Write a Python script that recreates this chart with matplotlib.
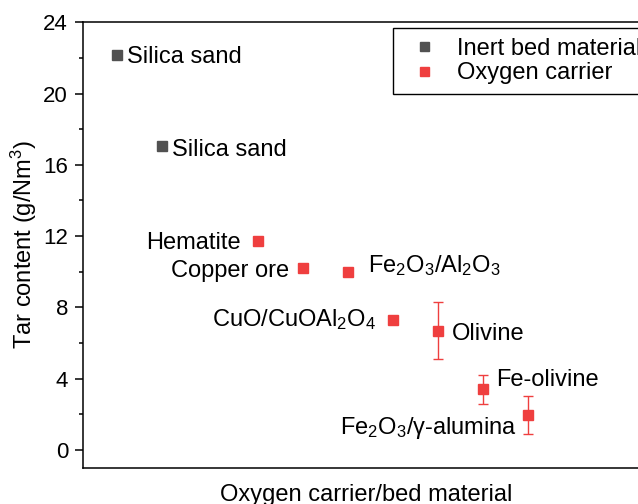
import matplotlib
matplotlib.use('Agg')
import matplotlib.pyplot as plt
from matplotlib.ticker import MultipleLocator

plt.rcParams['font.family'] = ['Liberation Sans', 'DejaVu Sans']
plt.rcParams['mathtext.fontset'] = 'custom'
plt.rcParams['mathtext.rm'] = 'Liberation Sans'
plt.rcParams['mathtext.it'] = 'Liberation Sans:italic'
plt.rcParams['mathtext.bf'] = 'Liberation Sans:bold'

# inert bed materials
inert_x = [1, 2]
inert_y = [22.15, 17.05]
inert_names = ['Silica sand', 'Silica sand']

# oxygen carriers
carrier_x = [4.13, 5.13, 6.13, 7.13, 8.13, 9.13, 10.13]
carrier_y = [11.75, 10.2, 10.0, 7.3, 6.7, 3.4, 1.95]
carrier_err = [0, 0, 0, 0, 1.6, 0.8, 1.05]
carrier_names = ['Hematite', 'Copper ore', 'Fe$_2$O$_3$/Al$_2$O$_3$',
	'CuO/CuOAl$_2$O$_4$', 'Olivine', 'Fe-olivine', 'Fe$_2$O$_3$/γ-alumina']

# label offsets (pixels) and alignment for each point
inert_off = [(10, -8), (10, -10)]
inert_ha = ['left', 'left']
carrier_off = [(-17, -8), (-14, -9), (20, 0), (-17, -6), (14, -9), (13, 3), (-11, -19)]
carrier_ha = ['right', 'right', 'left', 'right', 'left', 'left', 'right']

gray = '#515151'
red = '#ef3f3f'
fs = 17

fig = plt.figure(figsize=(6.38, 5.04), dpi=100)
ax = fig.add_axes([0.1306, 0.072, 0.886, 0.8838])

ax.plot(inert_x, inert_y, 's', color=gray, markersize=7.2, linestyle='none',
	label='Inert bed material')
ax.errorbar(carrier_x, carrier_y, yerr=carrier_err, fmt='none', ecolor=red,
	capsize=3.4, elinewidth=1, capthick=1)
ax.plot(carrier_x, carrier_y, 's', color=red, markersize=7.2, linestyle='none',
	label='Oxygen carrier')

for x, y, s, off, ha in zip(inert_x, inert_y, inert_names, inert_off, inert_ha):
	ax.annotate(s, (x, y), xytext=off, textcoords='offset pixels',
		ha=ha, va='baseline', fontsize=fs)
for x, y, s, off, ha in zip(carrier_x, carrier_y, carrier_names, carrier_off, carrier_ha):
	ax.annotate(s, (x, y), xytext=off, textcoords='offset pixels',
		ha=ha, va='baseline', fontsize=fs)

ax.set_xlim(0.25, 12.82)
ax.set_ylim(-1, 24)
ax.yaxis.set_major_locator(MultipleLocator(4))
ax.yaxis.set_minor_locator(MultipleLocator(2))
ax.tick_params(axis='y', which='major', direction='out', length=6, width=1.1,
	labelsize=16, pad=5)
ax.tick_params(axis='y', which='minor', direction='out', length=3, width=1.1)
ax.set_xticks([])
for sp in ax.spines.values():
	sp.set_linewidth(1.1)

ax.set_ylabel('Tar content (g/Nm$^3$)', fontsize=fs, labelpad=3)
ax.set_xlabel('Oxygen carrier/bed material', fontsize=fs, labelpad=12)

leg = ax.legend(loc='upper left', bbox_to_anchor=(393 / 638, 1 - 28.3 / 504),
	bbox_transform=fig.transFigure, borderaxespad=0, fontsize=fs,
	handlelength=1.8, handletextpad=0.53, labelspacing=0.1,
	fancybox=False, edgecolor='black', framealpha=1, markerscale=0.9)
leg.get_frame().set_linewidth(1)

fig.savefig('out.png', dpi=100)
